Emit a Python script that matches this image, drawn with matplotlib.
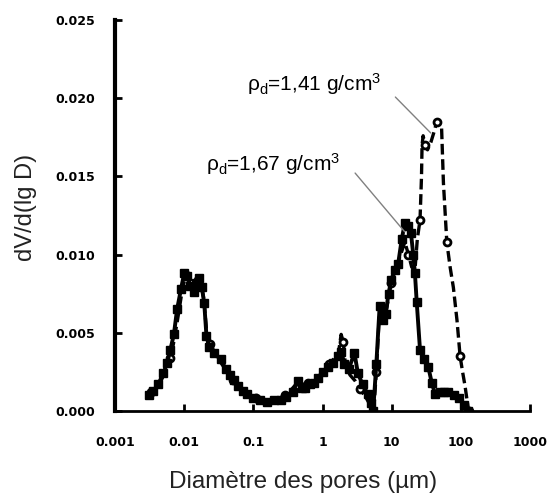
import matplotlib
matplotlib.use("Agg")
import matplotlib.pyplot as plt

plt.rcParams['mathtext.fontset'] = 'custom'
plt.rcParams['mathtext.rm'] = 'Liberation Sans'
plt.rcParams['mathtext.it'] = 'Liberation Sans:italic'

# ---- data ----
d167 = [0.0031, 0.0036, 0.0042, 0.0050, 0.0057, 0.0063, 0.0071, 0.0079, 0.0090, 0.0100,
        0.0110, 0.0122, 0.0137, 0.0150, 0.0162, 0.0180, 0.0195, 0.0210, 0.0230, 0.0270,
        0.0336, 0.0400, 0.0460, 0.0520, 0.0600, 0.0700, 0.0820, 0.100, 0.125, 0.160,
        0.20, 0.25, 0.30, 0.37, 0.44, 0.50, 0.55, 0.65, 0.75, 0.86,
        1.0, 1.2, 1.4, 1.67, 1.86, 2.08, 2.4, 2.9, 3.25, 3.8,
        4.5, 5.0, 5.4, 6.0, 6.7, 7.5, 8.2, 9.0, 9.9, 11.0,
        12.4, 14.0, 15.5, 17.0, 19.0, 20.5, 21.7, 23.0, 25.7, 29.0,
        33.9, 38.0, 42.4, 50.0, 58.0, 66.0, 80.0, 95.0, 110.0, 129.0]
v167 = [0.0010, 0.0013, 0.0017, 0.0024, 0.0031, 0.0039, 0.0049, 0.0065, 0.0078, 0.0088,
        0.0086, 0.0080, 0.0076, 0.0082, 0.0085, 0.0079, 0.0069, 0.0048, 0.0041, 0.0037,
        0.0033, 0.0027, 0.0023, 0.0020, 0.0016, 0.0013, 0.0011, 0.0008, 0.0007, 0.0006,
        0.0007, 0.0007, 0.0009, 0.0012, 0.0019, 0.0015, 0.0015, 0.0017, 0.0018, 0.0021,
        0.0025, 0.0028, 0.0031, 0.0035, 0.0038, 0.0030, 0.0027, 0.0037, 0.0024, 0.0017,
        0.0011, 0.0005, 0.0000, 0.0030, 0.0067, 0.0058, 0.0062, 0.0075, 0.0084, 0.0090,
        0.0094, 0.0110, 0.0120, 0.0118, 0.0114, 0.0100, 0.0088, 0.0070, 0.0039, 0.0033,
        0.0028, 0.0018, 0.0011, 0.0012, 0.0012, 0.0012, 0.0010, 0.0008, 0.0004, 0.0000]

d141 = [0.0033, 0.0040, 0.0047, 0.0055, 0.0062, 0.0070, 0.0080, 0.0092, 0.0105, 0.0118,
        0.0132, 0.0146, 0.0160, 0.0175, 0.0192, 0.021, 0.024, 0.029, 0.035, 0.042,
        0.050, 0.060, 0.072, 0.088, 0.11, 0.14, 0.18, 0.23, 0.29, 0.36,
        0.43, 0.52, 0.62, 0.74, 0.88, 1.05, 1.25, 1.5, 1.7, 1.86,
        2.0, 2.15, 2.5, 3.0, 3.5, 4.2, 5.0, 5.5, 6.0, 6.6,
        7.5, 8.5, 9.9, 11.5, 13.5, 15.5, 17.5, 19.5, 21.7, 23.5,
        25.7, 27.0, 27.5, 28.5, 30.5, 33.0, 37.0, 42.0, 44.7, 48.0,
        52.6, 56.0, 62.7, 70.0, 78.0, 88.0, 97.6, 106.0, 115.0, 122.0, 130.0]
v141 = [0.0012, 0.0015, 0.0020, 0.0026, 0.0034, 0.0043, 0.0058, 0.0075, 0.0087, 0.0083,
        0.0075, 0.0080, 0.0084, 0.0081, 0.0072, 0.0052, 0.0043, 0.0035, 0.0030, 0.0025,
        0.0020, 0.0016, 0.0012, 0.0009, 0.0008, 0.0007, 0.0007, 0.0008, 0.0010, 0.0014,
        0.0018, 0.0017, 0.0018, 0.0019, 0.0022, 0.0026, 0.0030, 0.0034, 0.0037, 0.0049,
        0.0044, 0.0029, 0.0023, 0.0019, 0.0014, 0.0009, 0.0003, 0.0000, 0.0025, 0.0060,
        0.0058, 0.0066, 0.0082, 0.0091, 0.0100, 0.0108, 0.0100, 0.0092, 0.0090, 0.0110,
        0.0122, 0.0150, 0.0170, 0.0176, 0.0170, 0.0167, 0.0172, 0.0180, 0.0185, 0.0184,
        0.0182, 0.0146, 0.0108, 0.0092, 0.0079, 0.0058, 0.0035, 0.0025, 0.0016, 0.0008, 0.0000]

xticks = [0.001, 0.01, 0.1, 1, 10, 100, 1000]
xticklabels = ['0.001', '0.01', '0.1', '1', '10', '100', '1000']
yticks = [0.000, 0.005, 0.010, 0.015, 0.020, 0.025]
yticklabels = ['0.000', '0.005', '0.010', '0.015', '0.020', '0.025']

label141 = r'ρ$_\mathrm{d}$=1,41 g/cm$^\mathrm{3}$'
label167 = r'ρ$_\mathrm{d}$=1,67 g/cm$^\mathrm{3}$'

# ---- figure ----
W, H = 549, 496
fig = plt.figure(figsize=(W / 100, H / 100), dpi=100)
ax = fig.add_axes([115 / W, 1 - 411 / H, (530 - 115) / W, (411 - 20) / H])

ax.plot(d167, v167, color='black', lw=2.8, ls='-', marker='s', ms=5.5,
        mfc='black', mec='black', zorder=3)
ax.plot(d141, v141, color='black', lw=2.4, ls=(0, (3.2, 1.4)), marker='o', ms=5,
        mfc='white', mec='black', mew=2, markevery=4, zorder=2)

ax.set_xscale('log')
ax.set_xlim(0.001, 1000)
ax.set_ylim(0, 0.025)
ax.set_xticks(xticks)
ax.set_xticklabels(xticklabels)
ax.set_yticks(yticks)
ax.set_yticklabels(yticklabels)
ax.minorticks_off()

for s in ['top', 'right']:
    ax.spines[s].set_visible(False)
ax.spines['left'].set_linewidth(3)
ax.spines['bottom'].set_linewidth(2)

ax.tick_params(axis='both', direction='in', length=5, width=2)
ax.tick_params(axis='x', pad=18)
ax.tick_params(axis='y', pad=14)
for t in ax.get_xticklabels() + ax.get_yticklabels():
    t.set_fontsize(9)
    t.set_fontweight('bold')
    t.set_family('DejaVu Sans')

# annotations
ax.text(0.0801, 0.02046, label141, fontsize=15, family='Liberation Sans',
        ha='left', va='baseline')
ax.text(0.021, 0.01535, label167, fontsize=15, family='Liberation Sans',
        ha='left', va='baseline')
ax.annotate('', xy=(39.2, 0.01765), xytext=(10.6, 0.0202),
            arrowprops=dict(arrowstyle='-', color='#808080', lw=1))
ax.annotate('', xy=(16.4, 0.01132), xytext=(2.79, 0.01535),
            arrowprops=dict(arrowstyle='-', color='#808080', lw=1))

fig.text(303 / W, 1 - 488 / H, 'Diamètre des pores (µm)', fontsize=17.5,
         family='Liberation Sans', ha='center', va='baseline', color='#222222')
fig.text(26 / W, 1 - 207 / H, 'dV/d(lg D)', fontsize=17, family='Liberation Sans',
         ha='center', va='center', rotation=90, color='#222222')

fig.savefig('out.png', dpi=100)
